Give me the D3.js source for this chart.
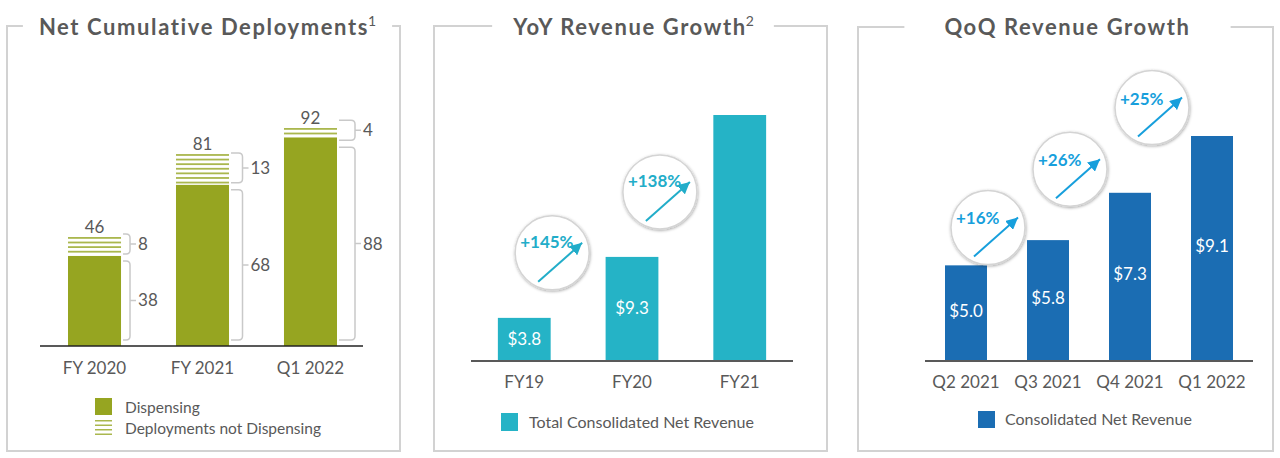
<!DOCTYPE html>
<html>
<head>
<meta charset="utf-8">
<script src="https://cdn.jsdelivr.net/npm/d3@7/dist/d3.min.js"></script>
<style>
  html, body { margin: 0; padding: 0; background: #fff; }
  svg { display: block; font-family: "Lato", "Open Sans", sans-serif; }
</style>
</head>
<body>
<svg id="chart" width="1280" height="458"></svg>
<script>
// ---------- DATA ----------
const deployCategories = ["FY 2020", "FY 2021", "Q1 2022"];
const dispensing = [38, 68, 88];
const notDispensing = [8, 13, 4];
const deployTotals = [46, 81, 92];

const yoyCategories = ["FY19", "FY20", "FY21"];
const yoyRevenue = [3.8, 9.3, 22.1];
const yoyLabels = ["$3.8", "$9.3", ""];
const yoyGrowth = ["+145%", "+138%"];

const qoqCategories = ["Q2 2021", "Q3 2021", "Q4 2021", "Q1 2022"];
const qoqRevenue = [5.0, 5.8, 7.3, 9.1];
const qoqLabels = ["$5.0", "$5.8", "$7.3", "$9.1"];
const qoqGrowth = ["+16%", "+26%", "+25%"];

const titles = ["Net Cumulative Deployments", "YoY Revenue Growth", "QoQ Revenue Growth"];
const titleSups = ["1", "2", ""];
const legendDeploy = ["Dispensing", "Deployments not Dispensing"];
const legendYoy = "Total Consolidated Net Revenue";
const legendQoq = "Consolidated Net Revenue";

// ---------- STYLE ----------
const TXT = "#595959";
const OLIVE = "#96a521";
const OLIVE_LIGHT = "#aab74e";
const TEAL = "#25b3c6";
const TEAL_TXT = "#22adc9";
const BLUE = "#1b6db3";
const BLUE_TXT = "#179fdc";
const FRAME = "#d2d2d2";

const svg = d3.select("#chart");
const defs = svg.append("defs");
const f = defs.append("filter").attr("id", "shadow")
  .attr("x", "-30%").attr("y", "-30%").attr("width", "160%").attr("height", "160%");
f.append("feDropShadow").attr("dx", 0.5).attr("dy", 1).attr("stdDeviation", 1.6)
  .attr("flood-color", "#000").attr("flood-opacity", 0.35);
[["arrTeal", TEAL_TXT], ["arrBlue", BLUE_TXT]].forEach(([id, c]) => {
  defs.append("marker").attr("id", id).attr("markerUnits", "userSpaceOnUse")
    .attr("markerWidth", 12).attr("markerHeight", 12).attr("refX", 10).attr("refY", 5)
    .attr("orient", "auto").attr("viewBox", "0 0 10 10")
    .append("path").attr("d", "M0,0 L10,5 L0,10 Z").attr("fill", c);
});

// ---------- FRAMES + TITLES ----------
const frames = [
  { l: 7, r: 400, t: 26, b: 451, pad: 16, dx: 4 },
  { l: 434, r: 827, t: 26, b: 451, pad: 20, dx: 3 },
  { l: 858, r: 1273, t: 27, b: 451, pad: 40, dx: 2 }
];
frames.forEach((fr, i) => {
  const t = svg.append("text")
    .attr("x", (fr.l + fr.r) / 2 + fr.dx).attr("y", 35)
    .attr("text-anchor", "middle")
    .attr("font-size", 22).attr("font-weight", 700).attr("fill", TXT)
    .attr("letter-spacing", 1.6)
    .text(titles[i]);
  if (titleSups[i]) {
    t.append("tspan").attr("font-size", 14).attr("font-weight", 400)
      .attr("letter-spacing", 0)
      .attr("dy", -9).attr("dx", -1).text(titleSups[i]);
  }
  const bb = t.node().getBBox();
  const gl = bb.x - fr.pad, gr = bb.x + bb.width + fr.pad;
  svg.append("path")
    .attr("d", `M${gl},${fr.t} L${fr.l},${fr.t} L${fr.l},${fr.b} L${fr.r},${fr.b} L${fr.r},${fr.t} L${gr},${fr.t}`)
    .attr("fill", "none").attr("stroke", FRAME).attr("stroke-width", 2);
});

// ---------- PANEL 1 ----------
{
  const base = 346;
  const x = d3.scaleBand().domain(deployCategories).range([14, 391]).paddingInner(0.509).paddingOuter(0.5);
  const y = d3.scaleLinear().domain([0, 92]).range([base, 128]);
  const g = svg.append("g");
  const bw = x.bandwidth();

  deployCategories.forEach((c, i) => {
    const x0 = x(c);
    const yDisp = y(dispensing[i]);
    const yTot = y(dispensing[i] + notDispensing[i]);
    g.append("rect").attr("x", x0).attr("y", yDisp).attr("width", bw).attr("height", base - yDisp).attr("fill", OLIVE);
    const pitch = 4.6;
    d3.range(yTot, yDisp - 2, pitch).forEach(yy => {
      g.append("rect").attr("x", x0).attr("y", yy).attr("width", bw).attr("height", 1.8).attr("fill", OLIVE_LIGHT);
    });
    g.append("text").attr("x", x0 + bw / 2).attr("y", yTot - 4).attr("text-anchor", "middle")
      .attr("font-size", 17).attr("fill", TXT).text(deployTotals[i]);
    const bx = x0 + bw + 2;
    const off = 7 + i * 4.5;
    const bracket = (y1, y2, label) => {
      let mid = (y1 + y2) / 2;
      if (y2 - y1 < 20) { y1 = mid - 11; y2 = mid + 9; mid = (y1 + y2) / 2; }
      const vx = bx + off;
      const r = 4;
      g.append("path")
        .attr("d", `M${bx},${y1} L${vx - r},${y1} Q${vx},${y1} ${vx},${y1 + r} L${vx},${y2 - r} Q${vx},${y2} ${vx - r},${y2} L${bx},${y2} M${vx},${mid} L${vx + 6},${mid}`)
        .attr("fill", "none").attr("stroke", "#c9c9c9").attr("stroke-width", 1.5);
      g.append("text").attr("x", vx + 8).attr("y", mid).attr("dy", "0.35em")
        .attr("font-size", 17).attr("fill", TXT).text(label);
      return y2;
    };
    const end1 = bracket(yTot - 1, yDisp - 2, notDispensing[i]);
    bracket(Math.max(yDisp + 2, end1 + 7), base - 6, dispensing[i]);
    g.append("text").attr("x", x0 + bw / 2).attr("y", 374).attr("text-anchor", "middle")
      .attr("font-size", 17).attr("fill", TXT).text(c);
  });
  g.append("line").attr("x1", 40).attr("x2", 363).attr("y1", base).attr("y2", base)
    .attr("stroke", "#222").attr("stroke-width", 1.5);

  g.append("rect").attr("x", 95).attr("y", 398).attr("width", 17).attr("height", 17).attr("fill", OLIVE);
  d3.range(0, 4).forEach(k => {
    g.append("rect").attr("x", 95).attr("y", 420 + k * 4.5).attr("width", 17).attr("height", 1.5).attr("fill", OLIVE_LIGHT);
  });
  g.append("text").attr("x", 125).attr("y", 413).attr("font-size", 15.5).attr("fill", TXT).text(legendDeploy[0]);
  g.append("text").attr("x", 125).attr("y", 434).attr("font-size", 15.5).attr("fill", TXT).text(legendDeploy[1]);
}

function bubble(g, cx, cy, label, color, marker, tdy) {
  g.append("circle").attr("cx", cx).attr("cy", cy).attr("r", 37)
    .attr("fill", "#fff").attr("stroke", "#d4d4d4").attr("stroke-width", 1.5)
    .attr("filter", "url(#shadow)");
  g.append("text").attr("x", cx - 32).attr("y", cy + tdy)
    .attr("font-size", 17).attr("font-weight", 700).attr("fill", color).text(label);
  g.append("line").attr("x1", cx - 14).attr("y1", cy + 29).attr("x2", cx + 30).attr("y2", cy - 10)
    .attr("stroke", color).attr("stroke-width", 2).attr("marker-end", `url(#${marker})`);
}

// ---------- PANEL 2 ----------
{
  const base = 360;
  const x = d3.scaleBand().domain(yoyCategories).range([444, 820]).paddingInner(0.51).paddingOuter(0.5);
  const y = d3.scaleLinear().domain([0, 22.1]).range([base, 115]);
  const g = svg.append("g");
  const bw = x.bandwidth();
  yoyCategories.forEach((c, i) => {
    const x0 = x(c), yt = y(yoyRevenue[i]);
    g.append("rect").attr("x", x0).attr("y", yt).attr("width", bw).attr("height", base - yt).attr("fill", TEAL);
    if (yoyLabels[i]) {
      g.append("text").attr("x", x0 + bw / 2).attr("y", (yt + base) / 2).attr("dy", "0.35em")
        .attr("text-anchor", "middle").attr("font-size", 17).attr("fill", "#fff").text(yoyLabels[i]);
    }
    g.append("text").attr("x", x0 + bw / 2).attr("y", 388).attr("text-anchor", "middle")
      .attr("font-size", 17).attr("fill", TXT).text(c);
  });
  g.append("line").attr("x1", 471).attr("x2", 793).attr("y1", base + 1).attr("y2", base + 1)
    .attr("stroke", "#222").attr("stroke-width", 1.5);
  yoyGrowth.forEach((lab, i) => {
    const cx = x(yoyCategories[i]) + bw + 1.5;
    const cy = y(yoyRevenue[i]) - 65;
    bubble(g, cx, cy, lab, TEAL_TXT, "arrTeal", -5);
  });
  g.append("rect").attr("x", 501).attr("y", 413).attr("width", 17).attr("height", 18).attr("fill", TEAL);
  g.append("text").attr("x", 529).attr("y", 428).attr("font-size", 16).attr("fill", TXT).text(legendYoy);
}

// ---------- PANEL 3 ----------
{
  const base = 360;
  const x = d3.scaleBand().domain(qoqCategories).range([904, 1274]).paddingInner(0.488).paddingOuter(0.5);
  const y = d3.scaleLinear().domain([2, 9.1]).range([base, 136]);
  const g = svg.append("g");
  const bw = x.bandwidth();
  qoqCategories.forEach((c, i) => {
    const x0 = x(c), yt = y(qoqRevenue[i]);
    g.append("rect").attr("x", x0).attr("y", yt).attr("width", bw).attr("height", base - yt).attr("fill", BLUE);
    g.append("text").attr("x", x0 + bw / 2).attr("y", (yt + base) / 2 - 2).attr("dy", "0.35em")
      .attr("text-anchor", "middle").attr("font-size", 17).attr("fill", "#fff").text(qoqLabels[i]);
    g.append("text").attr("x", x0 + bw / 2).attr("y", 388).attr("text-anchor", "middle")
      .attr("font-size", 17).attr("fill", TXT).text(c);
  });
  g.append("line").attr("x1", 925).attr("x2", 1253).attr("y1", base + 1).attr("y2", base + 1)
    .attr("stroke", "#222").attr("stroke-width", 1.5);
  qoqGrowth.forEach((lab, i) => {
    const cx = x(qoqCategories[i]) + bw + 1;
    const cy = 1.5 * y(qoqRevenue[i + 1]) - 0.5 * y(qoqRevenue[i]);
    bubble(g, cx, cy, lab, BLUE_TXT, "arrBlue", -3);
  });
  g.append("rect").attr("x", 978).attr("y", 411).attr("width", 17).attr("height", 17).attr("fill", BLUE);
  g.append("text").attr("x", 1005).attr("y", 425).attr("font-size", 16).attr("fill", TXT).text(legendQoq);
}
</script>
</body>
</html>
